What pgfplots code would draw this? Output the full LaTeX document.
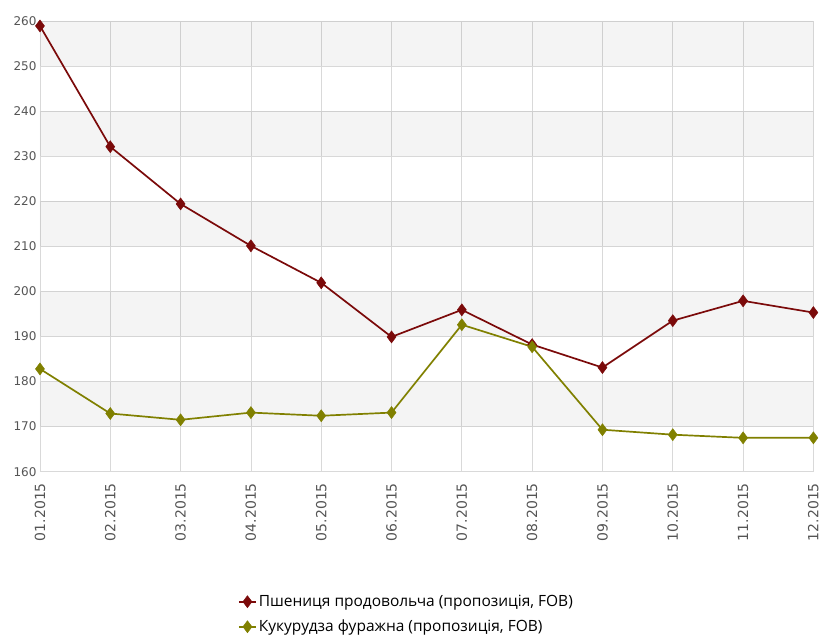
\documentclass[border=0pt]{standalone}
\usepackage{fontspec}
\setmainfont{Open Sans}
\newfontfamily\tickfont{DejaVu Sans}
\usepackage{pgfplots}
\pgfplotsset{compat=1.18}
\definecolor{wheat}{HTML}{7B0A0A}
\definecolor{corn}{HTML}{808000}
\definecolor{gridc}{HTML}{D9D9D9}
\definecolor{ticktext}{HTML}{555555}
\begin{document}
\begin{tikzpicture}
\path (0pt,0pt) rectangle (822pt,632pt);
\begin{axis}[
  at={(40pt,160pt)}, anchor=south west,
  scale only axis, width=774pt, height=451pt,
  xmin=0, xmax=11, ymin=160, ymax=260,
  xtick={0,...,11},
  xticklabels={01.2015,02.2015,03.2015,04.2015,05.2015,06.2015,07.2015,08.2015,09.2015,10.2015,11.2015,12.2015},
  x tick label style={rotate=90, anchor=east, font=\tickfont\fontsize{14}{16}\selectfont, text=ticktext},
  xticklabel shift=8pt,
  ytick={160,170,...,260},
  y tick label style={font=\tickfont\fontsize{12}{14}\selectfont, text=ticktext},
  /pgf/number format/assume math mode=true,
  major tick length=0pt,
  grid=major,
  grid style={gridc, line width=0.8pt},
  axis line style={gridc, line width=0.8pt},
  axis x line*=bottom, axis y line*=left,
  clip=false,
  legend style={draw=none, fill=none, at={(0.252,-0.265)}, anchor=north west,
    font=\fontsize{15.5}{18}\selectfont, row sep=8pt},
  legend cell align=left,
]
\addplot[fill=black, fill opacity=0.045, draw=none, forget plot] coordinates {(0,250) (11,250) (11,260) (0,260) (0,250)};
\addplot[fill=black, fill opacity=0.045, draw=none, forget plot] coordinates {(0,230) (11,230) (11,240) (0,240) (0,230)};
\addplot[fill=black, fill opacity=0.045, draw=none, forget plot] coordinates {(0,210) (11,210) (11,220) (0,220) (0,210)};
\addplot[fill=black, fill opacity=0.045, draw=none, forget plot] coordinates {(0,190) (11,190) (11,200) (0,200) (0,190)};
\addplot[fill=black, fill opacity=0.045, draw=none, forget plot] coordinates {(0,170) (11,170) (11,180) (0,180) (0,170)};
\addplot[wheat, line width=1.7pt, mark=diamond*, mark size=6pt, mark options={line width=0.5pt}] coordinates {
(0,258.9) (1,232.1) (2,219.4) (3,210.1) (4,201.9) (5,189.9) (6,195.9) (7,188.2) (8,183.1) (9,193.5) (10,197.9) (11,195.3)};
\addlegendentry{Пшениця продовольча (пропозиція, FOB)}
\addplot[corn, line width=1.7pt, mark=diamond*, mark size=6pt, mark options={line width=0.5pt}] coordinates {
(0,182.8) (1,172.9) (2,171.5) (3,173.1) (4,172.4) (5,173.1) (6,192.6) (7,187.7) (8,169.3) (9,168.2) (10,167.5) (11,167.5)};
\addlegendentry{Кукурудза фуражна (пропозиція, FOB)}
\end{axis}
\end{tikzpicture}
\end{document}
